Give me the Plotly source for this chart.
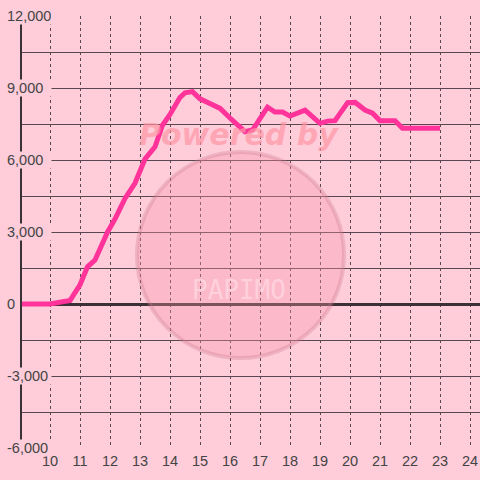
import plotly.graph_objects as go

# hour of day and cumulative value
hours = [9.0, 10.0, 10.67, 11.0, 11.25, 11.5, 11.92, 12.17, 12.5, 12.83,
         13.17, 13.5, 13.75, 14.0, 14.33, 14.5, 14.75, 15.0, 15.33, 15.67,
         16.0, 16.5, 16.75, 17.0, 17.25, 17.5, 17.75, 18.0, 18.5, 19.0,
         19.25, 19.5, 19.92, 20.17, 20.5, 20.75, 21.0, 21.5, 21.75, 23.0]
values = [0, 0, 150, 800, 1550, 1830, 3000, 3550, 4400, 5030,
          6050, 6550, 7450, 7900, 8600, 8800, 8850, 8550, 8350, 8150,
          7750, 7180, 7250, 7700, 8200, 8000, 8000, 7830, 8080, 7530,
          7620, 7640, 8390, 8400, 8080, 7950, 7640, 7640, 7320, 7320]

x_ticks = list(range(10, 25))
y_labels = [12000, 9000, 6000, 3000, 0, -3000, -6000]

bg = '#FFCCDA'
grid = '#5A4650'
text_col = '#444444'
font = 'Liberation Sans, Arial, sans-serif'

fig = go.Figure()

fig.update_xaxes(range=[9, 24.333], tickvals=x_ticks,
                 ticktext=[str(t) for t in x_ticks],
                 showgrid=True, gridcolor=grid, gridwidth=1, griddash='dot',
                 zeroline=False, showline=False, ticks='',
                 ticklabelstandoff=2,
                 tickfont=dict(family=font, size=14.5, color=text_col))
fig.update_yaxes(range=[-6000, 12000], dtick=1500, tick0=0,
                 showgrid=True, gridcolor=grid, gridwidth=1.2,
                 zeroline=True, zerolinecolor='#3A3035', zerolinewidth=3,
                 showline=False, showticklabels=False, ticks='')

# left axis bar
fig.add_shape(type='line', xref='x', yref='y', x0=9, x1=9, y0=-6000, y1=12000,
              line=dict(color='#3A3035', width=4))

for v in y_labels:
    fig.add_annotation(x=-0.03, y=v, xref='paper', yref='y', xanchor='left', yanchor='middle',
                       text=f'{v:,}', showarrow=False, bgcolor=bg, borderpad=0,
                       width=44 if v != 0 else None, align='left',
                       font=dict(family=font, size=14.5, color=text_col))

fig.add_trace(go.Scatter(x=hours, y=values, mode='lines',
                         line=dict(color='#FF3399', width=5),
                         hoverinfo='skip', showlegend=False))

# watermark
fig.add_shape(type='circle', xref='x', yref='y', x0=12.9, x1=19.8, y0=-2250, y1=6333,
              fillcolor='rgba(245,150,170,0.35)', line=dict(color='rgba(200,120,140,0.3)', width=4),
              layer='above')
fig.add_annotation(x=16.3, y=7050, xref='x', yref='y', text='<b><i>Powered by</i></b>',
                   showarrow=False, font=dict(family='DejaVu Sans', size=30, color='rgba(255,150,165,0.7)'))
fig.add_annotation(x=16.3, y=600, xref='x', yref='y', text='PAPIMO',
                   showarrow=False, font=dict(family='DejaVu Sans Mono', size=26, color='rgba(255,220,230,0.7)'))

fig.update_layout(width=480, height=480, paper_bgcolor=bg, plot_bgcolor=bg,
                  margin=dict(l=20, r=0, t=16, b=32))

fig.write_html('out.html', config={'displayModeBar': False},
               post_script="document.body.style.margin='0';document.body.style.background='#FFCCDA';")
